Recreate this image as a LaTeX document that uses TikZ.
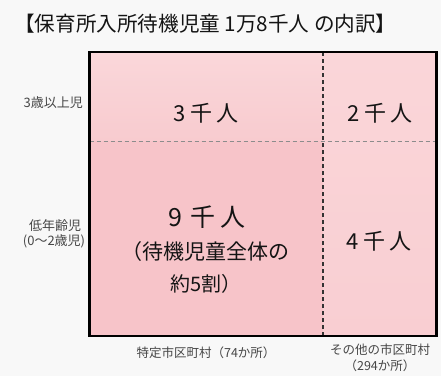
\documentclass[tikz,border=0pt]{standalone}
\usepackage{fontspec}
\setmainfont{Noto Sans CJK JP}
\definecolor{bg}{RGB}{248,248,248}
\definecolor{pinkTLt}{RGB}{250,215,218}
\definecolor{pinkTLb}{RGB}{248,203,207}
\definecolor{pinkBL}{RGB}{247,196,201}
\definecolor{pinkRt}{RGB}{250,214,217}
\definecolor{pinkRb}{RGB}{249,206,210}
\definecolor{labelgray}{RGB}{70,70,70}
\definecolor{txt}{RGB}{20,20,20}
\tikzset{
  titletext/.style={font=\fontsize{20.6}{23}\selectfont, text=txt, inner sep=0pt},
  bignum/.style={font=\fontsize{22}{24}\selectfont, text=txt, inner sep=0pt},
  hugenum/.style={font=\fontsize{25}{27}\selectfont, text=txt, inner sep=0pt},
  midtext/.style={font=\fontsize{21}{23}\selectfont, text=txt, inner sep=0pt},
  smalltext/.style={font=\fontsize{20}{22}\selectfont, text=txt, inner sep=0pt},
  sidelabel/.style={font=\fontsize{13}{14}\selectfont, text=labelgray, inner sep=0pt},
  botlabel/.style={font=\fontsize{12.5}{14}\selectfont, text=labelgray, inner sep=0pt},
  framebox/.style={draw=black, line width=2.2pt},
  hdash/.style={draw=gray!90, line width=1pt, dash pattern=on 4pt off 3pt},
  vdash/.style={draw=black!80, line width=1.3pt, dash pattern=on 4pt off 3pt},
}
\begin{document}
\begin{tikzpicture}[x=1pt,y=-1pt]
\fill[bg] (0,0) rectangle (441,376);
\useasboundingbox (0,0) rectangle (441,376);

% quadrants
\shade[top color=pinkTLt, bottom color=pinkTLb] (89.5,52) rectangle (323,141);
\fill[pinkBL] (89.5,141) rectangle (323,336);
\shade[top color=pinkRt, bottom color=pinkRb] (323,52) rectangle (436.5,336);

% grid coordinates
\coordinate (vtop) at (323,52);
\coordinate (vbot) at (323,336);
\coordinate (hl) at (89.5,141);
\coordinate (hr) at (436.5,141);
\draw[hdash] (hl) -- (hr);
\draw[vdash] (vtop) -- (vbot);
\draw[framebox] (89.5,52) rectangle (436.5,336);

% title
\node[titletext, anchor=west] (title) at (14,24) {【保育所入所待機児童 1万8千人 の内訳】};

% quadrant texts
\node[bignum] (q1) at (206,113) {3\hspace{4pt}千\hspace{4pt}人};
\node[bignum] (q2) at (380,113) {2\hspace{4pt}千\hspace{4pt}人};
\node[hugenum] (q3) at (207,217) {9\hspace{8pt}千\hspace{5pt}人};
\node[midtext] (q3b) at (205,252) {（待機児童全体の};
\node[smalltext] (q3c) at (206,284) {約5割）};
\node[bignum] (q4) at (379,241) {4\hspace{4pt}千\hspace{4pt}人};

% side labels
\node[sidelabel, anchor=east] (age3) at (83,103) {3歳以上児};
\node[sidelabel] (age0) at (55,226) {低年齢児};
\node[sidelabel] (age0b) at (54,241) {(0～2歳児)};

% bottom labels
\node[botlabel] (cityA) at (206,353) {特定市区町村（74か所）};
\node[botlabel] (cityB) at (380,350) {その他の市区町村};
\node[botlabel] (cityBb) at (380,366) {（294か所）};
\end{tikzpicture}
\end{document}
